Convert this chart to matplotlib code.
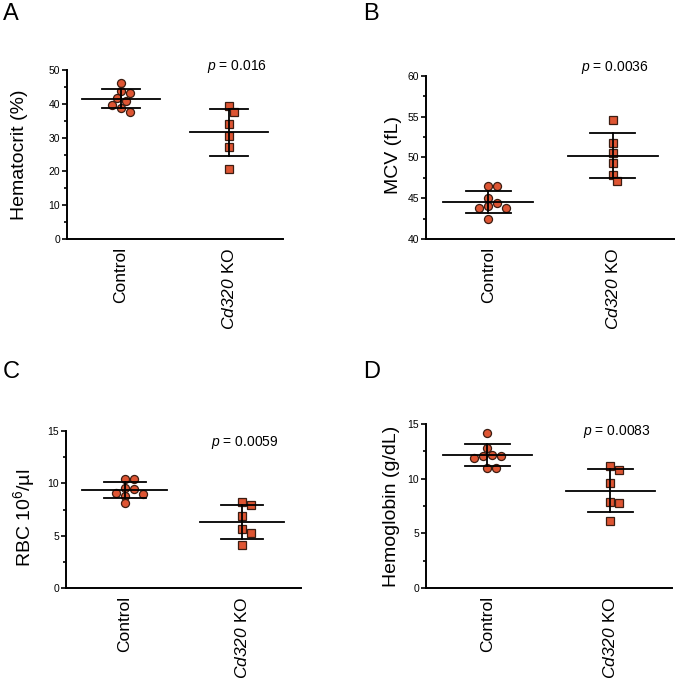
import numpy as np
import matplotlib
matplotlib.use("Agg")
import matplotlib.pyplot as plt
from matplotlib.ticker import MultipleLocator

plt.rcParams["font.family"] = ["Liberation Sans", "DejaVu Sans"]
plt.rcParams["mathtext.fontset"] = "custom"
plt.rcParams["mathtext.rm"] = "Liberation Sans"
plt.rcParams["mathtext.it"] = "Liberation Sans:italic"
# italic digits: 'it' sends digits to roman, so borrow the sf slot for the gene name
plt.rcParams["mathtext.sf"] = "Liberation Sans:italic"

# values
groups = ["Control", "$\\mathsf{Cd320}$ KO"]

hct_control = [46.2, 43.8, 43.2, 41.7, 40.8, 39.6, 38.8, 37.6]
hct_ko = [39.3, 37.6, 34.0, 30.5, 27.2, 20.7]

mcv_control = [46.5, 46.5, 45.0, 44.4, 43.8, 43.8, 44.0, 42.5]
mcv_ko = [54.6, 51.8, 50.6, 49.3, 47.8, 47.1]

rbc_control = [10.4, 10.4, 9.55, 9.45, 9.07, 8.98, 8.8, 8.1]
rbc_ko = [8.2, 7.9, 6.9, 5.6, 5.3, 4.1]

hgb_control = [14.2, 12.8, 12.2, 12.1, 12.1, 11.9, 11.0, 11.0]
hgb_ko = [11.2, 10.8, 9.6, 7.9, 7.8, 6.1]

panels = [
    dict(letter="A", ctrl=hct_control, ko=hct_ko, ylabel="Hematocrit (%)",
         ylim=(0, 50), major=10, minor=5, pval="0.016",
         rect=[0.0993, 0.6521, 0.320, 0.246], lab=(-0.18, 0.5), ptxt=(0.787, 1.018)),
    dict(letter="B", ctrl=mcv_control, ko=mcv_ko, ylabel="MCV (fL)",
         ylim=(40, 60), major=5, minor=2.5, pval="0.0036",
         rect=[0.631, 0.6521, 0.369, 0.2373], lab=(-0.095, 0.515), ptxt=(0.759, 1.055)),
    dict(letter="C", ctrl=rbc_control, ko=rbc_ko, ylabel="RBC 10$^6$/\u00b5l",
         ylim=(0, 15), major=5, minor=2.5, pval="0.0059",
         rect=[0.0978, 0.1441, 0.348, 0.2285], lab=(-0.125, 0.45), ptxt=(0.762, 0.924)),
    dict(letter="D", ctrl=hgb_control, ko=hgb_ko, ylabel="Hemoglobin (g/dL)",
         ylim=(0, 15), major=5, minor=2.5, pval="0.0083",
         rect=[0.631, 0.1441, 0.3644, 0.2387], lab=(-0.106, 0.5), ptxt=(0.776, 0.957)),
]
letter_pos = {"A": (0.004, 0.995), "B": (0.538, 0.995), "C": (0.004, 0.475), "D": (0.538, 0.475)}

FILL = "#de5533"
EDGE = "#3b1d12"


def swarm_offsets(ax, xc, vals, diam_px):
    """simple beeswarm: push points sideways in pixel space until they don't overlap"""
    pts = ax.transData.transform([(xc, v) for v in vals])
    order = np.argsort(-np.asarray(vals))
    placed = []
    xs = np.zeros(len(vals))
    step = diam_px * 0.6
    for i in order:
        px, py = pts[i]
        for k in range(0, 20):
            off = ((k + 1) // 2) * step * (1 if k % 2 else -1) if k else 0.0
            cand = (px + off, py)
            if all(np.hypot(cand[0] - q[0], cand[1] - q[1]) >= diam_px * 0.95 for q in placed):
                break
        placed.append(cand)
        xs[i] = ax.transData.inverted().transform(cand)[0]
    return xs


fig = plt.figure(figsize=(6.75, 6.87), dpi=100)

for p in panels:
    ax = fig.add_axes(p["rect"])
    ax.set_xlim(-0.5, 1.5)
    ax.set_ylim(*p["ylim"])
    for side in ("top", "right"):
        ax.spines[side].set_visible(False)
    for side in ("left", "bottom"):
        ax.spines[side].set_linewidth(1.4)

    for xi, (vals, marker, ms) in enumerate([(p["ctrl"], "o", 5.8), (p["ko"], "s", 5.2)]):
        xs = swarm_offsets(ax, xi, vals, 7.5)
        ax.plot(xs, vals, ls="none", marker=marker, ms=ms, mfc=FILL, mec=EDGE, mew=0.9, zorder=2)
        m = np.mean(vals)
        sd = np.std(vals, ddof=1)
        ax.plot([xi - 0.36, xi + 0.36], [m, m], color="black", lw=1.3, zorder=3)
        ax.plot([xi - 0.18, xi + 0.18], [m + sd, m + sd], color="black", lw=1.3, zorder=3)
        ax.plot([xi - 0.18, xi + 0.18], [m - sd, m - sd], color="black", lw=1.3, zorder=3)
        ax.plot([xi, xi], [m - sd, m + sd], color="black", lw=1.3, zorder=3)

    ax.set_xticks([0, 1])
    ax.set_xticklabels(groups, rotation=90, fontsize=12.5)
    ax.tick_params(axis="x", length=0, pad=6)
    ax.yaxis.set_major_locator(MultipleLocator(p["major"]))
    ax.yaxis.set_minor_locator(MultipleLocator(p["minor"]))
    ax.tick_params(axis="y", which="major", length=3.5, width=1.2, labelsize=7.5, pad=1.5, colors="black")
    ax.tick_params(axis="y", which="minor", length=2.5, width=1.2)

    ax.set_ylabel(p["ylabel"], fontsize=14)
    ax.yaxis.set_label_coords(*p["lab"])

    ax.text(p["ptxt"][0], p["ptxt"][1], "$p$ = " + p["pval"], transform=ax.transAxes,
            ha="center", va="center", fontsize=10)

    lx, ly = letter_pos[p["letter"]]
    fig.text(lx, ly, p["letter"], fontsize=17, ha="left", va="top")

fig.savefig("out.png", dpi=100)
